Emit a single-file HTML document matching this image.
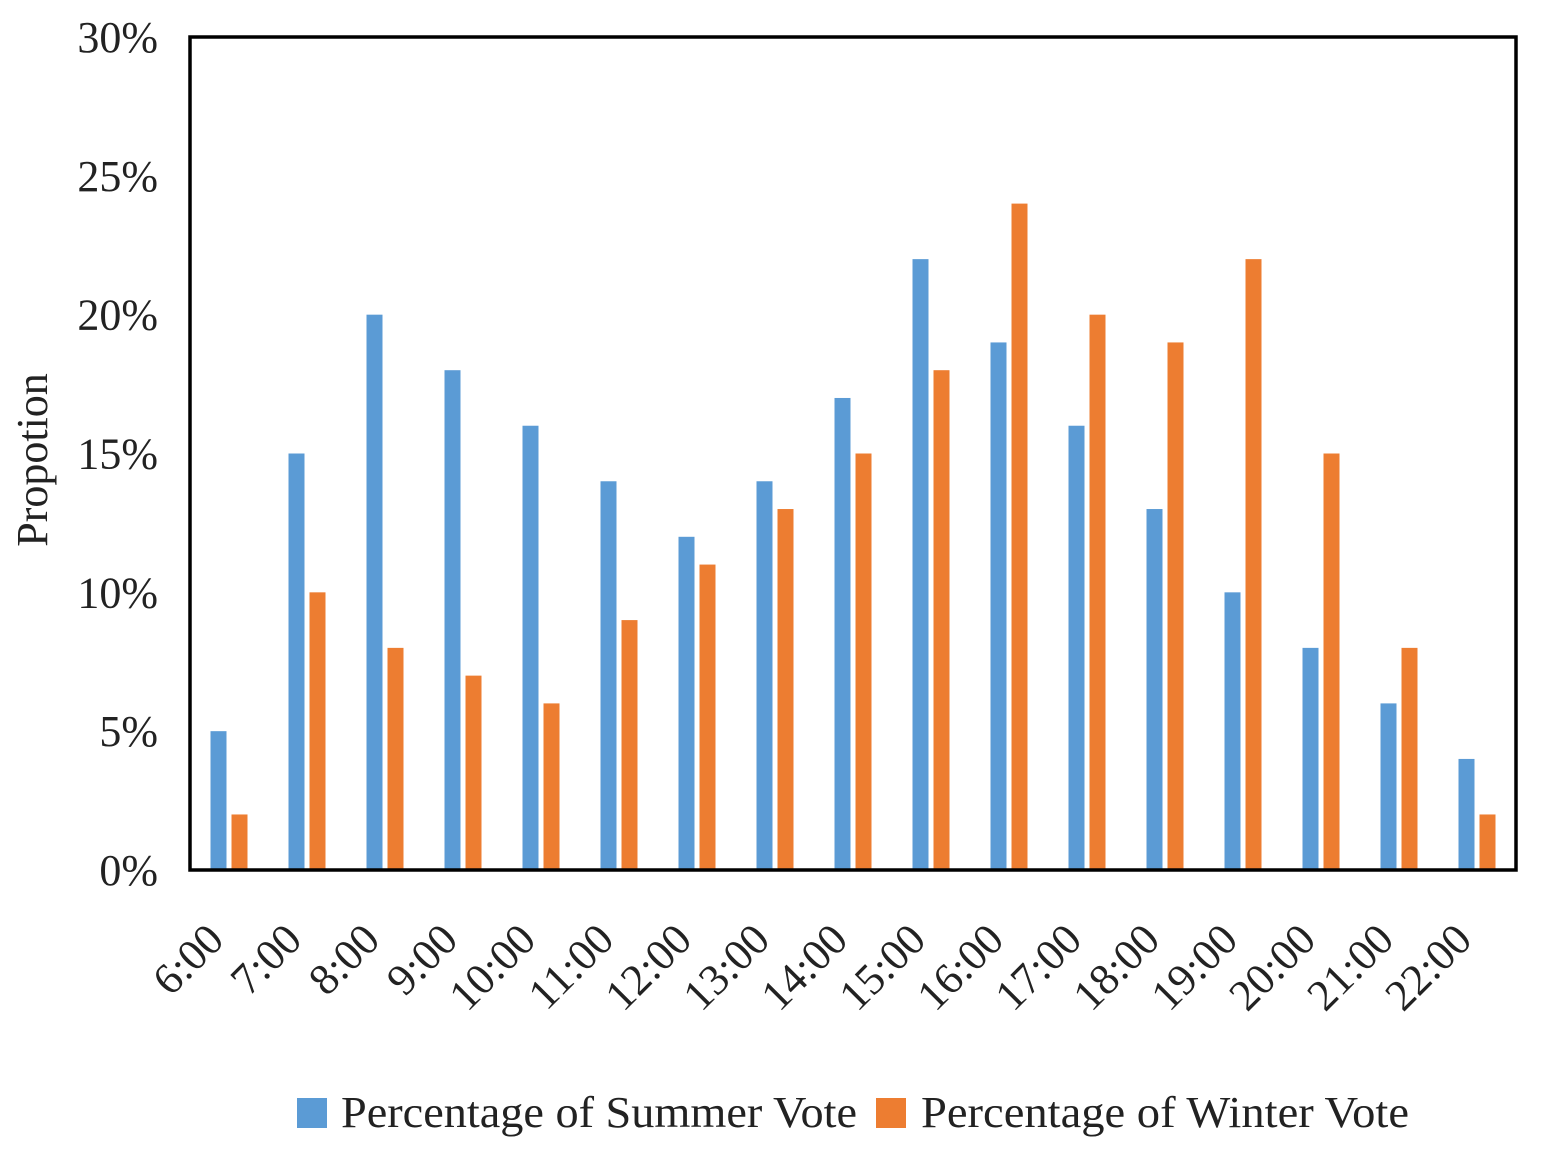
<!DOCTYPE html>
<html><head><meta charset="utf-8"><style>
html,body{margin:0;padding:0;background:#fff;}
svg text{font-family:"Liberation Serif",serif;fill:#222;}
</style></head><body>
<svg id="chart" width="1544" height="1152" viewBox="0 0 1544 1152" xmlns="http://www.w3.org/2000/svg">
<g id="bars"></g>
<g id="yticks"></g>
<g id="xticks"></g>
<rect x="190" y="37" width="1326" height="833" fill="none" stroke="#000" stroke-width="3.5"/>
<text transform="translate(47,460) rotate(-90)" text-anchor="middle" font-size="44">Propotion</text>
<g>
<rect x="297" y="1098" width="30" height="30" fill="#5b9bd5"/>
<text x="341" y="1127" font-size="44" textLength="516" lengthAdjust="spacingAndGlyphs">Percentage of Summer Vote</text>
<rect x="876" y="1098" width="30" height="30" fill="#ed7d31"/>
<text x="921" y="1127" font-size="44" textLength="488" lengthAdjust="spacingAndGlyphs">Percentage of Winter Vote</text>
</g>
</svg>
<script>
const categories = ["6:00","7:00","8:00","9:00","10:00","11:00","12:00","13:00","14:00","15:00","16:00","17:00","18:00","19:00","20:00","21:00","22:00"];
const summer = [5,15,20,18,16,14,12,14,17,22,19,16,13,10,8,6,4];
const winter = [2,10,8,7,6,9,11,13,15,18,24,20,19,22,15,8,2];
const yTicks = [0,5,10,15,20,25,30];
const NS="http://www.w3.org/2000/svg";
const x0=190,x1=1516,y0=870,y1=37,ymax=30;
const band=(x1-x0)/categories.length;
function xPos(i){return x0+band*i;}
function yPos(v){return y0-(v/ymax)*(y0-y1);}
const bars=document.getElementById('bars');
const bw=16;
categories.forEach((c,i)=>{
  const cx=xPos(i)+band/2;
  [[summer,'#5b9bd5',cx-bw-2.5,'summer'],[winter,'#ed7d31',cx+2.5,'winter']].forEach(([arr,col,x,nm])=>{
    const r=document.createElementNS(NS,'rect');
    
    
    r.setAttribute('x',x);r.setAttribute('width',bw);
    r.setAttribute('y',yPos(arr[i]));r.setAttribute('height',y0-yPos(arr[i]));
    r.setAttribute('fill',col);bars.appendChild(r);
  });
  const t=document.createElementNS(NS,'text');
  
  
  t.setAttribute('text-anchor','end');t.setAttribute('font-size','44');
  const tx=cx-3,ty=942;
  t.setAttribute('transform','translate('+tx+','+ty+') rotate(-45)');
  t.textContent=c;document.getElementById('xticks').appendChild(t);
});
yTicks.forEach(v=>{
  const t=document.createElementNS(NS,'text');
  
  
  t.setAttribute('text-anchor','end');t.setAttribute('font-size','44');
  t.setAttribute('x',158);t.setAttribute('y',yPos(v)+15);
  t.textContent=v+'%';document.getElementById('yticks').appendChild(t);
});
</script>
</body></html>
